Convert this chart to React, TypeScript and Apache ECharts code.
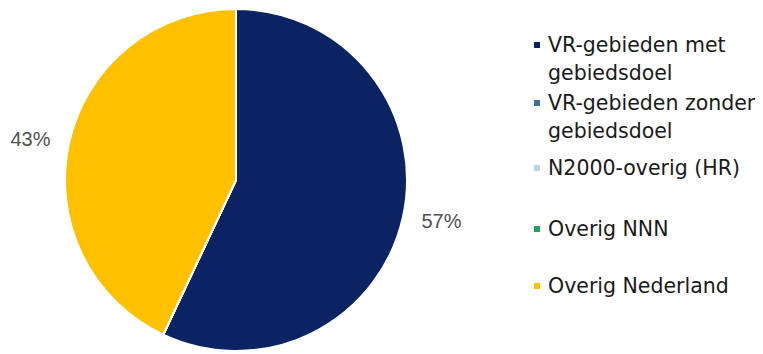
import React, { useEffect, useRef } from "react";
import * as echarts from "echarts";

const categories = [
  "VR-gebieden met gebiedsdoel",
  "VR-gebieden zonder gebiedsdoel",
  "N2000-overig (HR)",
  "Overig NNN",
  "Overig Nederland",
];
const legendLabels = [
  "VR-gebieden met\ngebiedsdoel",
  "VR-gebieden zonder\ngebiedsdoel",
  "N2000-overig (HR)",
  "Overig NNN",
  "Overig Nederland",
];
const values = [57, 0, 0, 0, 43];
const colors = ["#0C2363", "#3D6FA9", "#BDD5EA", "#20A25C", "#FFC000"];
const legendTops = [-5, 53, 146, 207, 264];

export default function App() {
  const ref = useRef<HTMLDivElement>(null);
  useEffect(() => {
    const chart = echarts.init(ref.current!, null, { renderer: "svg" });
    const legends = categories.map((name, i) => {
      const twoLine = legendLabels[i].includes("\n");
      return {
        show: true,
        left: 524,
        top: legendTops[i],
        orient: "vertical",
        padding: 0,
        itemWidth: 8,
        itemHeight: 8,
        icon: "rect",
        selectedMode: false,
        data: [name],
        formatter: () => (twoLine ? "\n" + legendLabels[i] : legendLabels[i]),
        textStyle: {
          fontFamily: "DejaVu Sans",
          fontSize: 20.5,
          color: "#1a1a1a",
          lineHeight: 28,
          padding: [0, 0, 0, 2],
        },
      };
    });
    chart.setOption({
      animation: false,
      color: colors,
      legend: legends,
      series: [
        {
          type: "pie",
          center: [228, 172],
          radius: [0, 171],
          startAngle: 90,
          clockwise: true,
          avoidLabelOverlap: false,
          itemStyle: { borderColor: "#ffffff", borderWidth: 2 },
          label: {
            show: true,
            position: "outside",
            fontFamily: "Liberation Sans",
            fontSize: 20,
            color: "#505050",
            distanceToLabelLine: 3,
            formatter: (p: any) => (p.value > 0 ? `${p.percent}%` : ""),
          },
          labelLine: { show: false, length: 16, length2: 0 },
          emphasis: { disabled: true },
          data: categories.map((name, i) => ({ name, value: values[i] })),
        },
      ],
    });
    return () => chart.dispose();
  }, []);
  return <div ref={ref} style={{ width: 747, height: 346 }} />;
}
